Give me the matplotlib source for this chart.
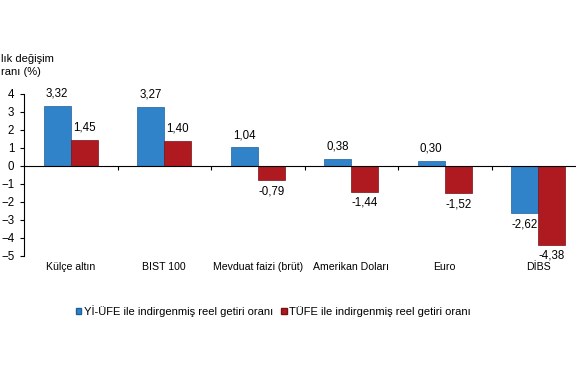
import numpy as np
import matplotlib.pyplot as plt
from matplotlib.patches import Patch
from matplotlib import transforms

plt.rcParams['font.family'] = ['Liberation Sans', 'DejaVu Sans']

categories = ['Külçe altın', 'BIST 100', 'Mevduat faizi (brüt)', 'Amerikan Doları', 'Euro', 'DİBS']
yi_ufe = [3.32, 3.27, 1.04, 0.38, 0.30, -2.62]
tufe = [1.45, 1.40, -0.79, -1.44, -1.52, -4.38]
series_names = ['Yİ-ÜFE ile indirgenmiş reel getiri oranı', 'TÜFE ile indirgenmiş reel getiri oranı']

blue = '#3082C9'
red = '#AE1A1F'

fig = plt.figure(figsize=(5.76, 3.75), dpi=100)
ax = fig.add_axes([24/576, 1-256/375, 6*93.5/576, 162/375])

x = np.arange(len(categories))
w = 0.29
b1 = ax.bar(x - w/2, yi_ufe, w, color=blue, edgecolor='#1f5f9a', linewidth=0.5)
b2 = ax.bar(x + w/2, tufe, w, color=red, edgecolor='#7a1014', linewidth=0.5)

for bars, vals in ((b1, yi_ufe), (b2, tufe)):
    for r, v in zip(bars, vals):
        cx = r.get_x() + r.get_width()/2
        lab = f'{v:.2f}'.replace('.', ',')
        if v >= 0:
            ax.annotate(lab, (cx, v), xytext=(0, 4.5), textcoords='offset points',
                        ha='center', va='bottom', fontsize=8.3)
        else:
            ax.annotate(lab, (cx, v), xytext=(0, -3.5), textcoords='offset points',
                        ha='center', va='top', fontsize=8.3)

ax.set_xlim(-0.5, len(categories) - 0.5)
ax.set_ylim(-5, 4)
ax.set_yticks(range(-5, 5))
ax.tick_params(axis='y', labelsize=8.3, length=3, width=0.8, pad=4)

ax.spines['top'].set_visible(False)
ax.spines['right'].set_visible(False)
ax.spines['bottom'].set_position(('data', 0))
ax.spines['bottom'].set_linewidth(0.8)
ax.spines['left'].set_linewidth(0.8)
ax.set_xticks(x[:-1] + 0.5)
ax.set_xticklabels([])
ax.tick_params(axis='x', length=3, width=0.8, direction='out')

trans = transforms.blended_transform_factory(ax.transData, ax.transAxes)
for xi, c in zip(x, categories):
    ax.text(xi, -0.065, c, transform=trans, ha='center', va='center', fontsize=7.6)

# the y title is cut by the left edge in the source image
fig.text(0.002, 0.825, 'lık değişim\nranı (%)', ha='left', va='center', fontsize=8,
         linespacing=1.45)

handles = [Patch(facecolor=blue, edgecolor='#1f5f9a'), Patch(facecolor=red, edgecolor='#7a1014')]
fig.legend(handles, series_names, loc='center left', bbox_to_anchor=(0.114, 0.17), ncol=2,
           frameon=False, fontsize=8, handlelength=0.5, handleheight=0.5, handletextpad=0.25,
           columnspacing=0.7)

fig.savefig('out.png', dpi=100)
